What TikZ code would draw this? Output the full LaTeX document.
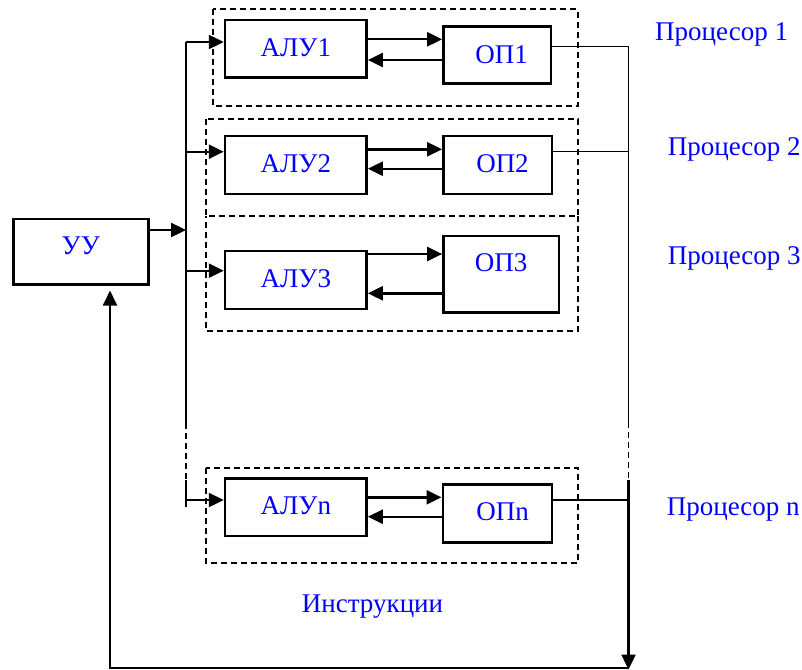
\documentclass[tikz,border=0pt]{standalone}
\usepackage{fontspec}
\setmainfont{Liberation Serif}
\usetikzlibrary{arrows.meta}
\begin{document}
\begin{tikzpicture}[x=1pt,y=-1pt,
  box/.style={draw, line width=2.4pt, inner sep=0pt, text=blue, font=\fontsize{27}{32}\selectfont},
  lbl/.style={text=blue, inner sep=0pt, font=\fontsize{27}{32}\selectfont},
  grp/.style={draw, line width=1.8pt, dash pattern=on 6pt off 4pt},
  arr/.style={line width=2.4pt, -{Triangle[length=15pt,width=14pt]}},
  thickline/.style={line width=2.4pt},
  thinline/.style={line width=1.5pt},
  thindash/.style={line width=1.5pt, dash pattern=on 6pt off 4pt}
]
\useasboundingbox (0,0) rectangle (802,669);

% dashed processor frames
\draw[grp] (212.7,9.3) rectangle (577.7,106);
\draw[grp] (206,119.3) rectangle (578.3,216);
\draw[grp] (578.3,216) -- (578.3,331) -- (206,331) -- (206,216);
\draw[grp] (205.7,468.3) rectangle (577.7,563.3);

% blocks
\node[box, minimum width=135pt, minimum height=65.3pt] (uu) at (80.8,251.7) {\raisebox{13pt}{УУ}};
\node[box, minimum width=141.7pt, minimum height=57.7pt] (alu1) at (295.8,48.8) {\raisebox{3pt}{АЛУ1}};
\node[box, minimum width=107.7pt, minimum height=56.6pt] (op1) at (497.2,55) {\hspace*{9pt}ОП1};
\node[box, minimum width=141.7pt, minimum height=58pt] (alu2) at (295.8,165) {\raisebox{3pt}{АЛУ2}};
\node[box, minimum width=108.4pt, minimum height=58pt] (op2) at (497.5,165) {\hspace*{10pt}\raisebox{3pt}{ОП2}};
\node[box, minimum width=141.7pt, minimum height=58pt] (alu3) at (295.8,280) {\raisebox{3pt}{АЛУ3}};
\node[box, minimum width=115.7pt, minimum height=76.6pt] (op3) at (501.2,274) {\raisebox{22pt}{ОП3}};
\node[box, minimum width=141.7pt, minimum height=57.4pt] (alun) at (295.8,507) {\raisebox{3pt}{АЛУn}};
\node[box, minimum width=109pt, minimum height=58pt] (opn) at (497.2,513.3) {\hspace*{11pt}\raisebox{3pt}{ОПn}};

% labels
\node[lbl, anchor=base west] (p1) at (655,40.7) {Процесор 1};
\node[lbl, anchor=base west] (p2) at (667.7,155) {Процесор 2};
\node[lbl, anchor=base west] (p3) at (667.7,264.3) {Процесор 3};
\node[lbl, anchor=base west] (pn) at (666.7,515) {Процесор n};
\node[lbl, anchor=base west] (instr) at (301.7,612) {Инструкции};

% row levels
\coordinate (r1a) at (0,39.3);  \coordinate (r1b) at (0,60);
\coordinate (r2a) at (0,149.3); \coordinate (r2b) at (0,168.7);
\coordinate (r3a) at (0,254);   \coordinate (r3b) at (0,293.3);
\coordinate (rna) at (0,497.3); \coordinate (rnb) at (0,516.7);

% left bus points
\coordinate (bt) at (186,42);
\coordinate (b2) at (186,151.7);
\coordinate (bu) at (186,230);
\coordinate (b3) at (186,270.7);
\coordinate (bd1) at (186,423);
\coordinate (bd2) at (186,480);
\coordinate (bn) at (186,500);
\coordinate (bb) at (186,507);

% right bus points
\coordinate (o1) at (628.5,46.7);
\coordinate (o2) at (628.5,151.7);
\coordinate (od1) at (628.5,421.7);
\coordinate (od2) at (628.5,480);
\coordinate (on) at (628.5,500);
\coordinate (otip) at (628.5,669.5);
\coordinate (ob) at (628.5,667.7);
\coordinate (lb) at (110,667.7);

% left bus
\draw[thickline] (bt) -- (bd1);
\draw[thindash] (bd1) -- (bd2);
\draw[thickline] (bd2) -- (bb);

% control unit to bus
\draw[arr] (uu.east |- bu) -- (bu);

% bus to ALUs
\draw[arr] (bt) -- (alu1.west |- bt);
\draw[arr] (b2) -- (alu2.west |- b2);
\draw[arr] (b3) -- (alu3.west |- b3);
\draw[arr] (bn) -- (alun.west |- bn);

% ALU <-> memory
\draw[arr] (alu1.east |- r1a) -- (op1.west |- r1a);
\draw[arr] (op1.west |- r1b) -- (alu1.east |- r1b);
\draw[arr] (alu2.east |- r2a) -- (op2.west |- r2a);
\draw[arr] (op2.west |- r2b) -- (alu2.east |- r2b);
\draw[arr] (alu3.east |- r3a) -- (op3.west |- r3a);
\draw[arr] (op3.west |- r3b) -- (alu3.east |- r3b);
\draw[arr] (alun.east |- rna) -- (opn.west |- rna);
\draw[arr] (opn.west |- rnb) -- (alun.east |- rnb);

% memory outputs and right bus
\draw[thinline] (op1.east |- o1) -- (o1) -- (od1);
\draw[thinline] (op2.east |- o2) -- (o2);
\draw[thinline] (opn.east |- on) -- (on);
\draw[thindash] (od1) -- (od2);
\draw[arr] (od2) -- (otip);

% feedback to control unit
\draw[arr, shorten >=5pt] (ob) -- (lb) -- (lb |- uu.south);
\end{tikzpicture}
\end{document}
